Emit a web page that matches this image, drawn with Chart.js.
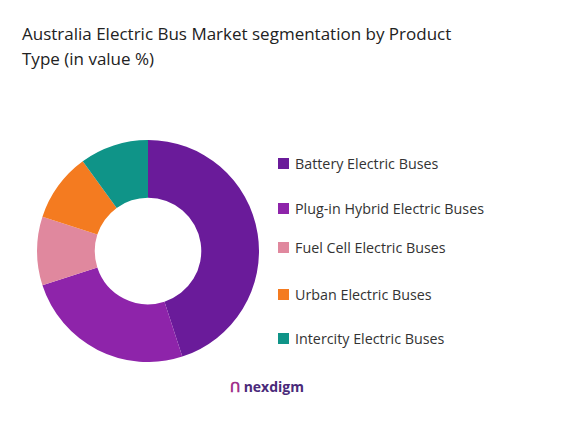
<!DOCTYPE html>
<html><head><meta charset="utf-8">
<script src="https://cdn.jsdelivr.net/npm/chart.js@4"></script>
<style>
body{margin:0;width:562px;height:430px;background:#fff;font-family:"Open Sans",sans-serif;position:relative;overflow:hidden}
#title{position:absolute;left:22px;top:21px;font-size:17px;line-height:25px;color:#222;width:470px}
#wrap{position:absolute;left:37px;top:140px;width:222px;height:222px}
.lg{position:absolute;left:278px;font-size:14.3px;color:#333;display:flex;align-items:center}
.lg span{display:inline-block;width:11px;height:11px;margin-right:6px}
#logo{position:absolute;left:230px;top:377px;font-size:14px;font-weight:bold;color:#4a2a7a}
</style></head><body>
<div id="title">Australia Electric Bus Market segmentation by Product Type (in value %)</div>
<div id="wrap"><canvas id="c"></canvas></div>
<div id="legend"></div>
<div id="logo"><span style="color:#a0308a">ᑎ</span> nexdigm</div>
<script>
const categories=["Battery Electric Buses","Plug-in Hybrid Electric Buses","Fuel Cell Electric Buses","Urban Electric Buses","Intercity Electric Buses"];
const values=[45,25,10,10,10];
const colors=["#6a1b9a","#8e24aa","#e0889e","#f47b20","#0f9488"];
const legendTops=[154,199,238,285,329];
const lg=document.getElementById('legend');
categories.forEach((c,i)=>{const d=document.createElement('div');d.className='lg';d.style.top=legendTops[i]+'px';d.innerHTML='<span style="background:'+colors[i]+'"></span>'+c;lg.appendChild(d);});
new Chart(document.getElementById('c'),{type:'doughnut',data:{labels:categories,datasets:[{data:values,backgroundColor:colors,borderWidth:0}]},
options:{responsive:true,maintainAspectRatio:false,animation:false,cutout:'48%',plugins:{legend:{display:false},tooltip:{enabled:false}}}});
</script></body></html>
